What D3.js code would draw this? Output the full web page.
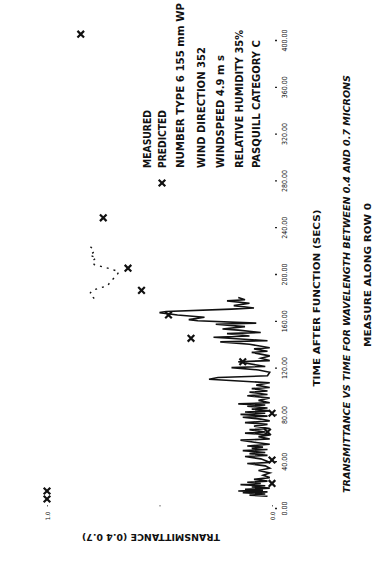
<!DOCTYPE html>
<html>
<head>
<meta charset="utf-8">
<script src="https://cdn.jsdelivr.net/npm/d3@7"></script>
<style>
  body { margin: 0; background: #fff; }
  svg { display: block; }
  text { font-family: "DejaVu Sans Condensed", "DejaVu Sans", sans-serif; fill: #111; }
</style>
</head>
<body>
<svg class="chart"></svg>
<script>

// time (secs) -> transmittance
var measured = [
    [10, 0.02], [11, 0.10], [12, 0.03], [13, 0.13], [13.8, 0.02], [14.5, 0.15], [15.3, 0.04],
    [16, 0.12], [17, 0.01], [18, 0.09], [19, 0.03], [20, 0.14], [21, 0.05], [22, 0.11],
    [23, 0.02], [24.5, 0.08], [26, 0.01], [28, 0.04], [30, 0.01], [32, 0.06], [34, 0.01],
    [36, 0.03], [38, 0.11], [39, 0.01], [42, 0.05], [44, 0.12], [45, 0.02], [46.5, 0.10],
    [47.5, 0.03], [49, 0.13], [50, 0.02], [51, 0.09], [52, 0.04], [53, 0.11], [54.5, 0.01],
    [56, 0.07], [58, 0.14], [59, 0.01], [61, 0.06], [62.5, 0.01], [64, 0.12], [65, 0.03],
    [67, 0.10], [68, 0.01], [70, 0.08], [71.5, 0.02], [73, 0.12], [74.5, 0.01], [76, 0.05],
    [77.5, 0.13], [78.5, 0.02], [80, 0.14], [81, 0.03], [82, 0.12], [83, 0.01], [84.5, 0.09],
    [85.5, 0.02], [87, 0.11], [88, 0.03], [89, 0.15], [90, 0.01], [92, 0.06], [94, 0.01],
    [96, 0.11], [97, 0.02], [99, 0.10], [100, 0.02], [102, 0.09], [103, 0.01], [105, 0.07],
    [107, 0.01], [110, 0.28], [111.5, 0.24], [113, 0.02], [116, 0.01], [118, 0.06], [120, 0.18],
    [121, 0.03], [124, 0.12], [125, 0.15], [126, 0.01], [128, 0.05], [130, 0.01], [133, 0.09],
    [134, 0.02], [136, 0.08], [137, 0.01], [140, 0.10], [142, 0.23], [143, 0.02], [146, 0.26],
    [147, 0.10], [149, 0.20], [150, 0.05], [152, 0.15], [153, 0.22], [155, 0.12], [157, 0.25],
    [158, 0.07], [160, 0.33], [161, 0.37], [163, 0.30], [165, 0.42], [167, 0.50], [168, 0.47],
    [170, 0.18], [171, 0.08], [173, 0.17], [175, 0.10], [177, 0.20], [178, 0.12], [180, 0.15]
];

// faint tail of the measured trace (comes out broken on the scan)
var measuredTail = [
    [179, 0.79], [183, 0.81], [186, 0.80], [190, 0.73], [193, 0.72], [199, 0.69], [202, 0.68],
    [205, 0.73], [208, 0.79], [211, 0.80], [214, 0.78], [216, 0.81], [219, 0.79], [222, 0.80],
    [226, 0.82]
];

var predicted = [
    [7.7, 1.0], [14.5, 1.0], [21, 0.0], [41, 0.0], [65, 0.02], [81, 0.0], [125, 0.13],
    [145, 0.36], [165, 0.46], [186, 0.58], [205, 0.64], [248, 0.75], [405, 0.85]
];

var timeTicks = [0, 40, 80, 120, 160, 200, 240, 280, 320, 360, 400];
var transTicks = [0, 0.5, 1];
var transLabels = ["0.0", "", "1.0"];

var legendLines = [
    "NUMBER TYPE 6 155 mm WP",
    "WIND DIRECTION 352",
    "WINDSPEED 4.9 m s",
    "RELATIVE HUMIDITY 35%",
    "PASQUILL CATEGORY C"
];

var chart = {
    width: 378,
    height: 571,
    svg: null
};

chart.svg = d3.select("svg.chart")
    .attr("width", chart.width)
    .attr("height", chart.height);

chart.svg.append("rect")
    .attr("width", chart.width)
    .attr("height", chart.height)
    .attr("fill", "#fff");

// the page is turned on its side: time runs bottom -> top, transmittance right -> left
var t = d3.scaleLinear().domain([0, 400]).range([508, 40]);
var tr = d3.scaleLinear().domain([0, 1]).range([272, 47]);

// rotated text helper
function vtext(g, x, y, str, len, opts) {
    opts = opts || {};
    var el = g.append("text")
        .attr("transform", "translate(" + x + "," + y + ") rotate(" + (opts.rot || -90) + ")")
        .attr("dy", "0.35em")
        .attr("text-anchor", opts.anchor || "start")
        .style("font-size", (opts.size || 10.5) + "px")
        .style("font-weight", opts.weight || "bold")
        .style("font-style", opts.italic ? "italic" : "normal")
        .text(str);
    if (len) el.attr("textLength", len).attr("lengthAdjust", "spacingAndGlyphs");
    return el;
}

// time axis (right side)
var timeAxis = chart.svg.append("g")
    .attr("transform", "translate(275,0)")
    .call(d3.axisRight(t).tickValues(timeTicks).tickSize(2).tickFormat(d3.format(".2f")));
timeAxis.select(".domain").remove();
timeAxis.selectAll(".tick line").attr("stroke", "#222").attr("stroke-width", 1.3);
timeAxis.selectAll(".tick text")
    .attr("x", 0).attr("dy", null)
    .attr("transform", "translate(10,0) rotate(-90)")
    .attr("text-anchor", "middle")
    .attr("dominant-baseline", "central")
    .style("font-size", "7px")
    .style("font-family", "'DejaVu Sans Condensed', sans-serif")
    .attr("fill", "#111");

// transmittance axis (bottom, near time 0)
var transAxis = chart.svg.append("g")
    .attr("transform", "translate(0,505)")
    .call(d3.axisBottom(tr).tickValues(transTicks).tickSize(1.5)
        .tickFormat(function(d, i) { return transLabels[i]; }));
transAxis.select(".domain").remove();
transAxis.selectAll(".tick line").attr("stroke", "#666");
transAxis.selectAll(".tick text")
    .attr("y", 0).attr("dy", null)
    .attr("transform", "translate(0,11) rotate(-90)")
    .attr("text-anchor", "middle")
    .attr("dominant-baseline", "central")
    .style("font-size", "6px")
    .attr("fill", "#777");

var labels = chart.svg.append("g");
vtext(labels, 151, 537, "TRANSMITTANCE (0.4 0.7)", 138, { rot: 180, anchor: "middle", size: 9 });
vtext(labels, 317, 298, "TIME AFTER FUNCTION (SECS)", 177, { anchor: "middle", size: 9.5 });
vtext(labels, 347, 284, "TRANSMITTANCE VS TIME FOR WAVELENGTH BETWEEN 0.4 AND 0.7 MICRONS", 418,
    { anchor: "middle", size: 9.5, italic: true });
vtext(labels, 368, 275, "MEASURE ALONG ROW 0", 144, { anchor: "middle", size: 9.5 });

// legend
var legend = chart.svg.append("g");
vtext(legend, 147, 168, "MEASURED", 58);
vtext(legend, 162, 168, "PREDICTED", 58);
legend.append("path")
    .attr("transform", "translate(162,183)")
    .attr("d", d3.symbol(d3.symbolX, 30)())
    .attr("stroke", "#111").attr("stroke-width", 2.2).attr("fill", "none");

var legendX = [180, 201, 220, 239, 256];
var legendLen = [165, 121, 113, 138, 128];
legendLines.forEach(function(s, i) {
    vtext(legend, legendX[i], 168, s, legendLen[i]);
});

// measured trace
var line = d3.line()
    .x(function(d) { return tr(d[1]); })
    .y(function(d) { return t(d[0]); });

chart.svg.append("path")
    .datum(measured)
    .attr("d", line)
    .attr("fill", "none")
    .attr("stroke", "#111")
    .attr("stroke-width", 1.6)
    .attr("stroke-linejoin", "miter");

chart.svg.append("path")
    .datum(measuredTail)
    .attr("d", line)
    .attr("fill", "none")
    .attr("stroke", "#111")
    .attr("stroke-width", 1.4)
    .attr("stroke-dasharray", "2,5");

// predicted markers
chart.svg.append("g")
    .selectAll("path")
    .data(predicted)
    .enter().append("path")
        .attr("transform", function(d) { return "translate(" + tr(d[1]) + "," + t(d[0]) + ")"; })
        .attr("d", d3.symbol(d3.symbolX, 30)())
        .attr("stroke", "#111")
        .attr("stroke-width", 2.2)
        .attr("fill", "none");

</script>
</body>
</html>
